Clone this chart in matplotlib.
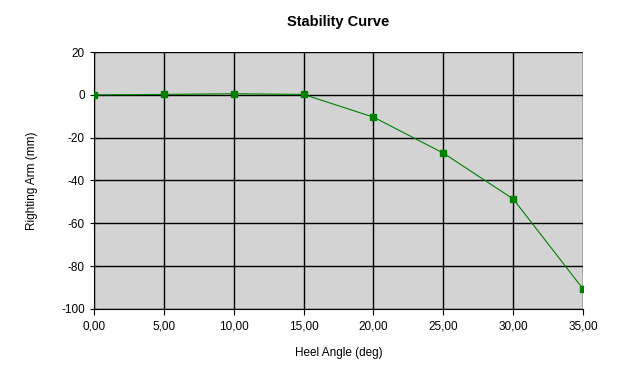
import matplotlib
matplotlib.use("Agg")
import matplotlib.pyplot as plt
from matplotlib.ticker import FuncFormatter

heel_angle = [0, 5, 10, 15, 20, 25, 30, 35]
righting_arm = [0.0, 0.2, 0.5, 0.2, -10.4, -27.2, -48.6, -90.6]

plt.rcParams['font.family'] = ['Liberation Sans', 'DejaVu Sans']
plt.rcParams['axes.unicode_minus'] = False

fig = plt.figure(figsize=(6.24, 3.72), dpi=100)
ax = fig.add_axes([0.1506, 0.1694, 0.7837, 0.6908])
ax.set_facecolor('#D3D3D3')
ax.plot(heel_angle, righting_arm, color='#008000', lw=0.8, marker='s', ms=5,
        markerfacecolor='#008000', markeredgecolor='#008000', zorder=3)
ax.set_xlim(0, 35)
ax.set_ylim(-100, 20)
ax.set_xticks(range(0, 36, 5))
ax.set_yticks(range(-100, 21, 20))
ax.xaxis.set_major_formatter(FuncFormatter(lambda v, p: f"{v:.2f}".replace('.', ',')))
ax.grid(True, color='black', lw=1)
ax.set_axisbelow(True)
for s in ['top', 'right']:
    ax.spines[s].set_visible(False)
for s in ['left', 'bottom']:
    ax.spines[s].set_color('black')
ax.tick_params(axis='both', direction='out', length=4, labelsize=8.5, color='black')
ax.tick_params(axis='x', pad=4)
ax.tick_params(axis='y', direction='inout', length=6)
ax.set_xlabel('Heel Angle (deg)', fontsize=8.5, labelpad=11)
ax.set_ylabel('Righting Arm (mm)', fontsize=8.5, labelpad=17)
ax.set_title('Stability Curve', fontsize=10.5, fontweight='bold', pad=19)
fig.savefig('out.png', dpi=100)
